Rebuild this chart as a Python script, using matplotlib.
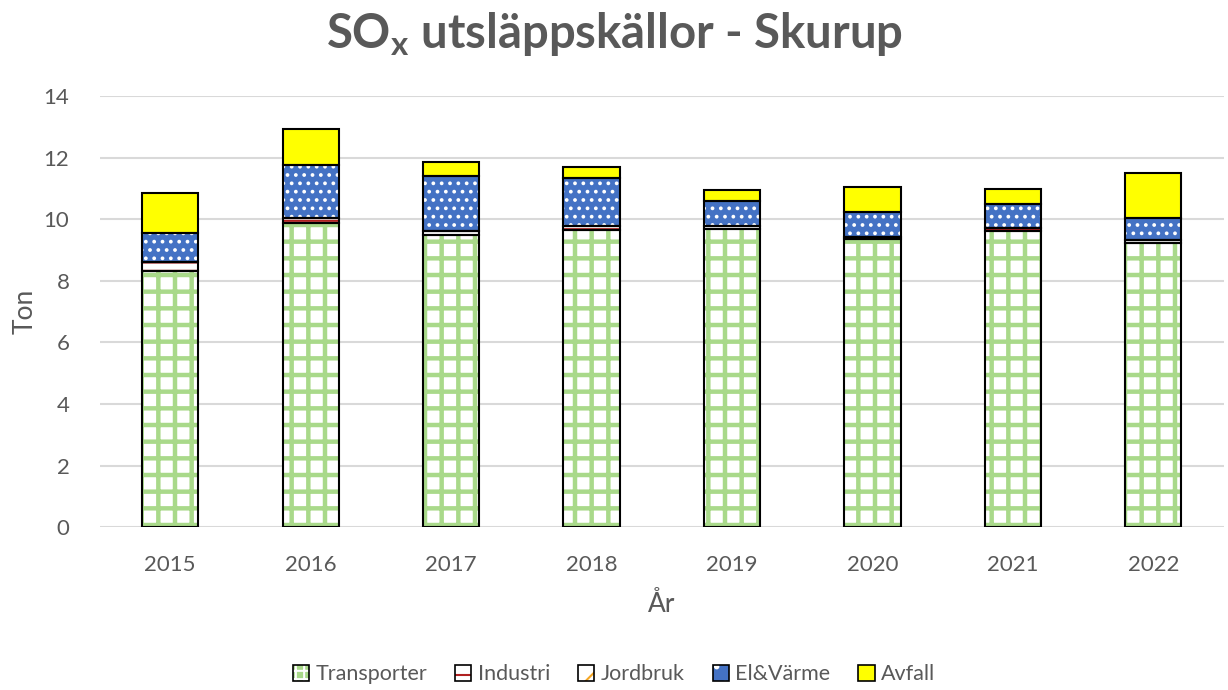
import numpy as np
import matplotlib.pyplot as plt
import matplotlib as mpl
from matplotlib.patches import Patch

# data (ton)
years = ['2015', '2016', '2017', '2018', '2019', '2020', '2021', '2022']
transporter = [8.31, 9.87, 9.48, 9.64, 9.67, 9.35, 9.61, 9.22]
industri = [0.29, 0.17, 0.14, 0.13, 0.10, 0.07, 0.10, 0.10]
jordbruk = [0.01, 0.01, 0.01, 0.01, 0.01, 0.01, 0.01, 0.01]
el_varme = [0.94, 1.70, 1.77, 1.55, 0.80, 0.80, 0.77, 0.71]
avfall = [1.30, 1.17, 0.46, 0.36, 0.36, 0.81, 0.48, 1.45]

labels = ['Transporter', 'Industri', 'Jordbruk', 'El&Värme', 'Avfall']
series = [transporter, industri, jordbruk, el_varme, avfall]
faces = ['white', 'white', 'white', '#4472c4', '#ffff00']
hatch_cols = ['#a9d98a', '#b02020', '#f5a623', 'white', '#ffff00']
hatches = ['+', '--', '//', '..', None]
hatch_lw = [3.2, 1.5, 1.5, 1.5, 1.0]

grey = '#595959'
plt.rcParams['font.family'] = ['Lato', 'DejaVu Sans']


def set_hlw(p, lw):
    if hasattr(p, 'set_hatch_linewidth'):
        p.set_hatch_linewidth(lw)


fig = plt.figure(figsize=(12.28, 6.9), dpi=100)
ax = fig.add_axes([0.0814, 0.236, 0.915, 0.6246])

x = np.arange(len(years))
w = 0.4
bottom = np.zeros(len(years))
for vals, lab, fc, hc, h, hl in zip(series, labels, faces, hatch_cols, hatches, hatch_lw):
    vals = np.array(vals)
    mpl.rcParams['hatch.linewidth'] = hl
    bars = ax.bar(x, vals, w, bottom=bottom, color=fc, edgecolor=hc, hatch=h,
                  linewidth=0, zorder=2)
    for b in bars:
        set_hlw(b, hl)
    ax.bar(x, vals, w, bottom=bottom, fill=False, edgecolor='black',
           linewidth=1.5, zorder=3)
    bottom += vals

# legend handles: hatched patch with a black frame on top
mpl.rcParams['hatch.linewidth'] = 1.5
handles = []
for lab, fc, hc, h in zip(labels, faces, hatch_cols, hatches):
    if lab == 'Transporter':
        inner = Patch(facecolor='#a9d98a', edgecolor='white', hatch='++', linewidth=0)
    elif lab == 'Industri':
        inner = Patch(facecolor='white', edgecolor=hc, hatch='-', linewidth=0)
    elif lab == 'Jordbruk':
        inner = Patch(facecolor='white', edgecolor=hc, hatch='/', linewidth=0)
    elif lab == 'El&Värme':
        inner = Patch(facecolor=fc, edgecolor='white', hatch='.', linewidth=0)
    else:
        inner = Patch(facecolor=fc, linewidth=0)
    set_hlw(inner, 1.5)
    frame = Patch(fill=False, edgecolor='black', linewidth=1.2)
    handles.append((inner, frame))

ax.set_ylim(0, 14)
ax.set_xlim(-0.5, len(years) - 0.5)
ax.set_yticks(range(0, 15, 2))
ax.set_xticks(x)
ax.set_xticklabels(years)
ax.yaxis.grid(True, color='#d9d9d9', linewidth=1.5, zorder=0)
ax.set_axisbelow(True)
for s in ['top', 'right', 'left', 'bottom']:
    ax.spines[s].set_visible(False)
ax.tick_params(axis='both', length=0, labelsize=16, colors=grey)
ax.tick_params(axis='x', pad=20)
ax.tick_params(axis='y', pad=22)
ax.set_ylabel('Ton', fontsize=19, color=grey, labelpad=4)
ax.set_xlabel('År', fontsize=19, color=grey, labelpad=12)

fig.suptitle('SO$_\\mathregular{x}$ utsläppskällor - Skurup', fontsize=34,
             fontweight='bold', color=grey, y=0.985)

fig.legend(handles=handles, labels=labels, loc='lower center', ncol=5,
           frameon=False, fontsize=15.5, bbox_to_anchor=(0.5, -0.02),
           handlelength=0.75, handleheight=0.75, handletextpad=0.3,
           columnspacing=1.3, labelcolor=grey)

fig.savefig('out.png', dpi=100)
